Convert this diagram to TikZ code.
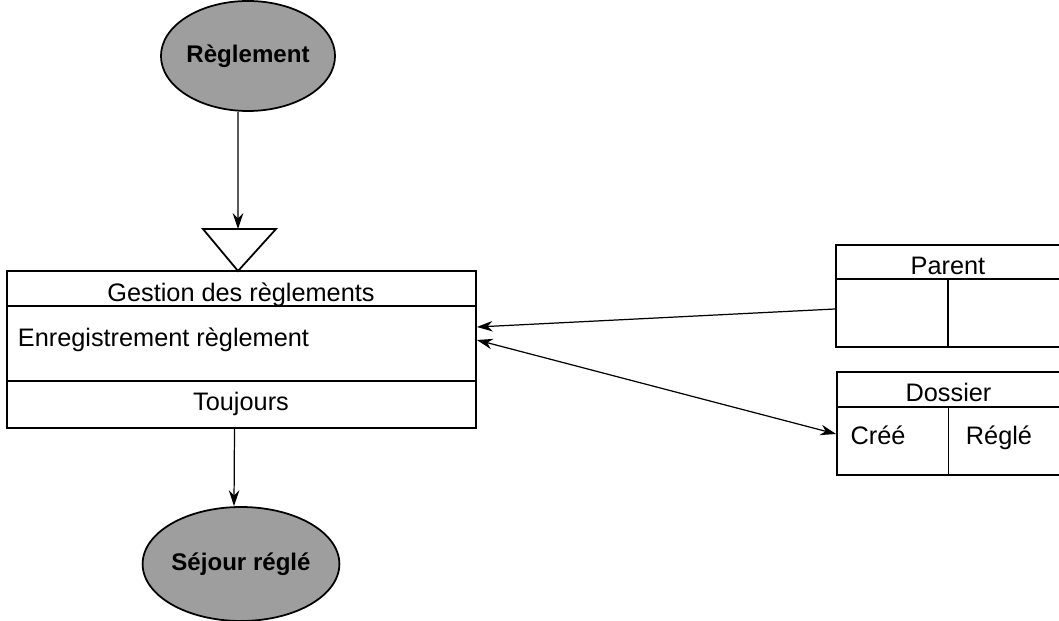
\documentclass[tikz,border=0pt]{standalone}
\usepackage{fontspec}
\setmainfont{Liberation Sans}
\usetikzlibrary{shapes.geometric,arrows.meta}

\begin{document}
\begin{tikzpicture}[line width=1pt,
		evenement/.style={ellipse, draw, fill=black!38, minimum width=3.4cm,
			minimum height=2.2cm, inner sep=0pt,
			font=\fontsize{13.7}{16}\selectfont\bfseries},
		cadre/.style={draw, inner sep=0pt},
		txt/.style={font=\fontsize{14.4}{17}\selectfont, inner sep=0pt, anchor=base},
		fleche/.style={line width=0.7pt, -{Stealth[length=9pt,width=6pt]}},
		fleches/.style={line width=0.7pt, {Stealth[length=9pt,width=6pt]}-{Stealth[length=9pt,width=6pt]}}]
		\useasboundingbox (0,0) rectangle (21.18,-12.42);
		\clip (0,0) rectangle (21.18,-12.42);
		% evenements
		\node[evenement] (regl) at (4.96,-1.12) {Règlement};
		\node[evenement, minimum width=3.44cm, minimum height=2.28cm] (sejour) at (4.82,-11.28) {Séjour réglé};
		% operation
		\node[cadre, minimum width=9.38cm, minimum height=3.14cm] (gestion) at (4.83,-6.99) {};
		\draw ([yshift=-0.72cm]gestion.north west) -- ([yshift=-0.72cm]gestion.north east);
		\draw ([yshift=-2.22cm]gestion.north west) -- ([yshift=-2.22cm]gestion.north east);
		\node[txt] (titre) at (4.82,-6.04) {Gestion des règlements};
		\node[txt, anchor=base west] (op) at (0.34,-6.94) {Enregistrement règlement};
		\node[txt] (cond) at (4.82,-8.22) {Toujours};
		% synchronisation
		\coordinate (tg) at (4.06,-4.58);
		\coordinate (td) at (5.52,-4.58);
		\coordinate (tt) at (4.76,-4.58);
		\coordinate (tb) at (4.76,-5.42);
		\draw (tg) -- (td) -- (tb) -- cycle;
		% objets
		\node[cadre, minimum width=4.48cm, minimum height=2.04cm] (parent) at (18.96,-5.92) {};
		\draw ([yshift=-0.7cm]parent.north west) -- ([yshift=-0.7cm]parent.north east);
		\draw ([yshift=-0.7cm]parent.north) -- (parent.south);
		\node[txt] (lparent) at (18.96,-5.50) {Parent};
		\node[cadre, minimum width=4.46cm, minimum height=2.06cm] (dossier) at (18.97,-8.47) {};
		\draw ([yshift=-0.72cm]dossier.north west) -- ([yshift=-0.72cm]dossier.north east);
		\draw ([yshift=-0.72cm]dossier.north) -- (dossier.south);
		\node[txt] (ldossier) at (18.97,-8.04) {Dossier};
		\node[txt] (cree) at (17.56,-8.90) {Créé};
		\node[txt] (regle) at (19.98,-8.90) {Réglé};
		% liens
		\draw[fleche] ([xshift=-0.2cm]regl.south) -- (tt);
		\draw[fleche] ([xshift=-0.14cm]gestion.south) -- ([xshift=-0.14cm]sejour.north);
		\draw[fleche] ([yshift=-0.26cm]parent.west) -- ([yshift=0.45cm]gestion.east);
		\draw[fleches] ([yshift=0.19cm]gestion.east) -- ([yshift=-0.21cm]dossier.west);
\end{tikzpicture}
\end{document}
